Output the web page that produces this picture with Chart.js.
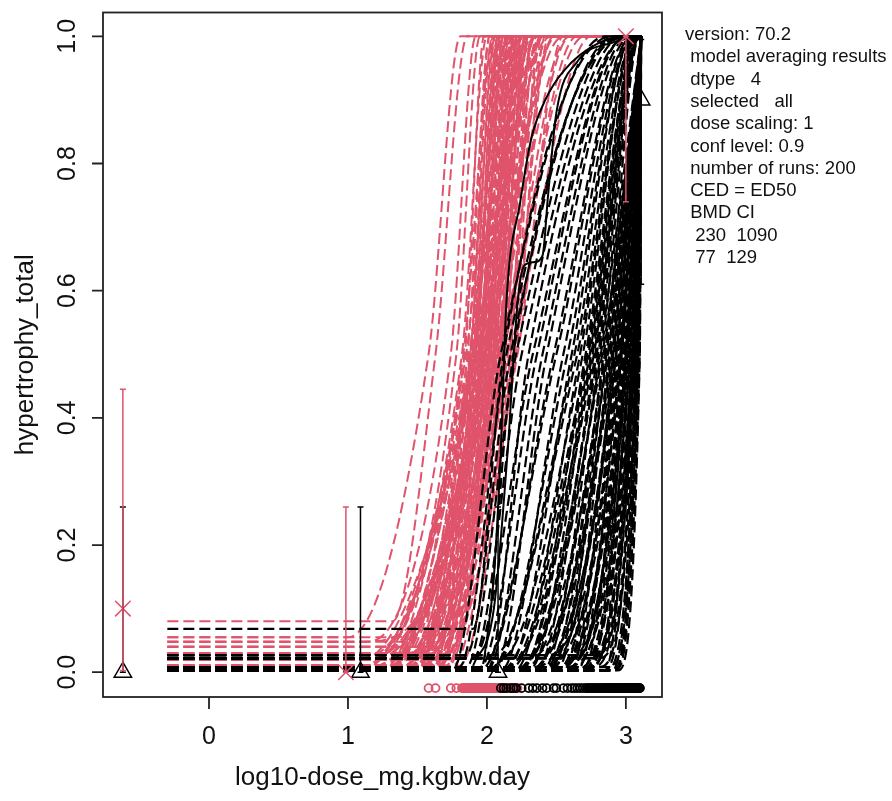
<!DOCTYPE html>
<html>
<head>
<meta charset="utf-8">
<script src="https://cdn.jsdelivr.net/npm/chart.js@4/dist/chart.umd.min.js"></script>
<style>
  body { margin: 0; background: #fff; }
  #wrap { width: 892px; height: 801px; }
</style>
</head>
<body>
<div id="wrap"><canvas id="chart" width="892" height="801"></canvas></div>
<script>
// axis ticks and texts
const xTicks = [0, 1, 2, 3];
const yTicks = [0, 0.2, 0.4, 0.6, 0.8, 1.0];
const yTickLabels = ['0.0', '0.2', '0.4', '0.6', '0.8', '1.0'];
const xTitle = 'log10-dose_mg.kgbw.day';
const yTitle = 'hypertrophy_total';
const infoLines = [
    'version: 70.2',
    ' model averaging results',
    ' dtype   4',
    ' selected   all',
    ' dose scaling: 1',
    ' conf level: 0.9',
    ' number of runs: 200',
    ' CED = ED50',
    ' BMD CI',
    '  230  1090',
    '  77  129'
];

// observed responses per dose group (log10 dose)
const redDoseX = [-0.62, 0.985, 3.0];
const redMean = [0.10, 0.0, 1.0];
const redLow = [0.0025, 0.0, 0.74];
const redHigh = [0.445, 0.26, 1.0];
const blackDoseX = [-0.62, 1.09, 2.08, 3.11];
const blackMean = [0.0, 0.0, 0.0, 0.9];
const blackLow = [0.0, 0.0, 0.0, 0.61];
const blackHigh = [0.26, 0.26, 0.26, 0.995];

// bootstrap curves: background level, end of flat part, ED50, top
const curveLeft = -0.3;
const curveRight = 3.11;
const redBase = [0.055, 0.080, 0.048, 0.040, 0.020, 0.048, 0.004, 0.020, 0.010, 0.004,
                 0.030, 0.004, 0.020, 0.010, 0.004, 0.040, 0.004, 0.020, 0.004, 0.010,
                 0.004, 0.055, 0.004, 0.020, 0.010, 0.004, 0.030, 0.004, 0.020, 0.004,
                 0.010, 0.004, 0.020, 0.004, 0.010, 0.004, 0.020, 0.004, 0.040, 0.004,
                 0.010, 0.004, 0.020, 0.004, 0.010, 0.004, 0.030, 0.004, 0.020, 0.004,
                 0.010, 0.004, 0.020, 0.004, 0.010, 0.004, 0.020, 0.004, 0.048, 0.010,
                 0.004, 0.010, 0.004, 0.020, 0.004, 0.010, 0.004, 0.020, 0.004, 0.010,
                 0.004, 0.030, 0.004, 0.010, 0.004, 0.020, 0.004, 0.010, 0.004, 0.020,
                 0.004, 0.010, 0.004, 0.020, 0.004, 0.010, 0.004, 0.020, 0.004, 0.010];
const redStart = [1.00, 1.32, 1.15, 1.25, 1.05, 1.40, 0.95, 1.20, 1.30, 1.10,
                  1.35, 1.50, 1.15, 1.40, 1.25, 1.55, 1.05, 1.45, 1.30, 1.20,
                  1.50, 1.35, 1.60, 1.10, 1.45, 1.25, 1.55, 1.40, 1.15, 1.60,
                  1.30, 1.50, 1.20, 1.65, 1.35, 1.55, 1.45, 1.25, 1.60, 1.40,
                  1.70, 1.30, 1.55, 1.45, 1.65, 1.35, 1.60, 1.50, 1.70, 1.40,
                  1.75, 1.55, 1.65, 1.45, 1.80, 1.60, 1.70, 1.00, 1.10, 1.20,
                  1.45, 1.30, 1.55, 1.20, 1.60, 1.40, 1.50, 1.35, 1.65, 1.25,
                  1.55, 1.45, 1.60, 1.30, 1.70, 1.50, 1.40, 1.65, 1.55, 1.75,
                  1.45, 1.60, 1.70, 1.50, 1.35, 1.45, 1.55, 1.65, 1.25, 1.40];
const redMid = [1.58, 1.63, 1.74, 1.78, 1.82, 1.83, 1.84, 1.85, 1.86, 1.87,
                1.88, 1.88, 1.89, 1.90, 1.90, 1.91, 1.92, 1.92, 1.93, 1.94,
                1.94, 1.95, 1.96, 1.96, 1.97, 1.98, 1.98, 1.99, 2.00, 2.00,
                2.01, 2.02, 2.02, 2.03, 2.04, 2.04, 2.05, 2.06, 2.06, 2.07,
                2.08, 2.08, 2.09, 2.10, 2.10, 2.11, 2.12, 2.13, 2.14, 2.15,
                2.16, 2.17, 2.18, 2.19, 2.20, 2.21, 2.22, 1.95, 2.01, 1.99,
                1.885, 1.895, 1.905, 1.915, 1.925, 1.935, 1.945, 1.955, 1.965, 1.975,
                1.985, 1.995, 2.005, 2.015, 2.025, 2.035, 2.045, 2.055, 2.065, 2.075,
                2.085, 2.095, 2.105, 2.115, 1.93, 1.97, 2.01, 2.05, 1.91, 1.99];
const redTop = [1.81, 1.86, 1.92, 1.95, 2.00, 2.05, 1.98, 2.10, 2.02, 2.15,
                2.04, 2.25, 2.06, 2.12, 2.35, 2.08, 2.20, 2.10, 2.45, 2.14,
                2.30, 2.12, 2.18, 2.40, 2.16, 2.22, 2.55, 2.20, 2.26, 2.15,
                2.50, 2.20, 2.32, 2.24, 2.60, 2.22, 2.28, 2.40, 2.25, 2.35,
                2.26, 2.70, 2.30, 2.38, 2.28, 2.48, 2.34, 2.30, 2.65, 2.36,
                2.40, 2.32, 2.75, 2.38, 2.45, 2.42, 2.55, 2.08, 2.16, 2.30,
                2.02, 2.20, 2.05, 2.30, 2.08, 2.15, 2.40, 2.10, 2.12, 2.25,
                2.14, 2.50, 2.16, 2.22, 2.18, 2.35, 2.20, 2.28, 2.22, 2.45,
                2.25, 2.30, 2.28, 2.60, 2.06, 2.12, 2.18, 2.24, 2.10, 2.20];

const blackBase = [0.003, 0.068, 0.008, 0.027, 0.003, 0.022, 0.003, 0.008, 0.003, 0.022,
                   0.003, 0.008, 0.027, 0.003, 0.022, 0.003, 0.008, 0.003, 0.022, 0.003,
                   0.008, 0.003, 0.027, 0.003, 0.008, 0.003, 0.022, 0.003, 0.008, 0.003,
                   0.003, 0.022, 0.003, 0.008, 0.003, 0.027, 0.003, 0.008, 0.003, 0.022,
                   0.003, 0.008, 0.003, 0.003, 0.022, 0.003, 0.008, 0.003, 0.003, 0.027,
                   0.003, 0.008, 0.003, 0.022, 0.003, 0.003, 0.008, 0.003, 0.003, 0.003,
                   0.003, 0.008, 0.003, 0.022, 0.003, 0.008, 0.003, 0.003, 0.022, 0.003,
                   0.008, 0.003, 0.003, 0.008, 0.003, 0.022, 0.003, 0.003, 0.008, 0.003,
                   0.003, 0.022, 0.003, 0.008, 0.003, 0.008, 0.003, 0.022, 0.003, 0.008];
const blackStart = [1.75, 1.90, 1.80, 1.85, 1.95, 1.90, 2.00, 1.95, 2.05, 2.00,
                    2.10, 2.15, 2.05, 2.20, 2.10, 2.25, 2.15, 2.30, 2.20, 2.35,
                    2.25, 2.40, 2.30, 2.45, 2.35, 2.50, 2.40, 2.55, 2.45, 2.30,
                    2.60, 2.50, 2.40, 2.55, 2.65, 2.45, 2.60, 2.70, 2.50, 2.65,
                    2.55, 2.75, 2.60, 2.70, 2.80, 2.65, 2.75, 2.85, 2.70, 2.80,
                    2.85, 2.75, 2.90, 2.80, 2.85, 2.90, 2.88, 2.92, 2.90, 2.94,
                    2.10, 2.25, 2.15, 2.30, 2.20, 2.35, 2.25, 2.40, 2.30, 2.45,
                    2.35, 2.50, 2.40, 2.55, 2.45, 2.60, 2.50, 2.65, 2.55, 2.70,
                    2.60, 2.75, 2.65, 2.80, 1.95, 2.05, 2.00, 1.90, 2.00, 1.85];
const blackMid = [2.10, 2.12, 2.14, 2.17, 2.19, 2.25, 2.30, 2.36, 2.43, 2.48,
                  2.55, 2.61, 2.63, 2.67, 2.69, 2.71, 2.73, 2.75, 2.77, 2.78,
                  2.80, 2.81, 2.82, 2.84, 2.85, 2.86, 2.87, 2.88, 2.89, 2.90,
                  2.91, 2.92, 2.93, 2.94, 2.95, 2.96, 2.96, 2.97, 2.98, 2.99,
                  3.00, 3.00, 3.01, 3.02, 3.02, 3.03, 3.04, 3.04, 3.05, 3.05,
                  3.06, 3.06, 3.07, 3.07, 3.08, 3.08, 3.09, 3.09, 3.10, 3.10,
                  2.72, 2.74, 2.76, 2.79, 2.83, 2.85, 2.87, 2.89, 2.91, 2.93,
                  2.94, 2.95, 2.97, 2.98, 2.99, 3.00, 3.01, 3.02, 3.03, 3.04,
                  3.05, 3.06, 3.07, 3.08, 2.50, 2.58, 2.65, 2.33, 2.40, 2.21];
const blackTop = [2.85, 2.90, 2.95, 2.92, 3.00, 2.98, 3.02, 3.00, 3.04, 3.05,
                  3.06, 3.05, 3.07, 3.08, 3.06, 3.09, 3.08, 3.10, 3.09, 3.10,
                  3.10, 3.11, 3.10, 3.11, 3.10, 3.11, 3.11, 3.11, 3.11, 3.11,
                  3.11, 3.11, 3.11, 3.11, 3.11, 3.11, 3.11, 3.11, 3.11, 3.11,
                  3.11, 3.11, 3.11, 3.11, 3.11, 3.11, 3.11, 3.11, 3.11, 3.11,
                  3.11, 3.11, 3.11, 3.11, 3.11, 3.11, 3.11, 3.11, 3.11, 3.11,
                  3.08, 3.09, 3.10, 3.10, 3.11, 3.11, 3.11, 3.11, 3.11, 3.11,
                  3.11, 3.11, 3.11, 3.11, 3.11, 3.11, 3.11, 3.11, 3.11, 3.11,
                  3.11, 3.11, 3.11, 3.11, 3.05, 3.06, 3.08, 3.00, 3.02, 2.95];

// solid averaged curves
const solidAx = [1.98, 2.05, 2.10, 2.14, 2.24, 2.32, 2.42, 2.55, 2.81, 3.08];
const solidAy = [0.02, 0.15, 0.35, 0.58, 0.74, 0.84, 0.90, 0.945, 0.99, 1.0];
const solidBx = [1.90, 2.05, 2.15, 2.22, 2.27, 2.34, 2.40, 2.44, 2.50, 2.65, 2.90, 3.08];
const solidBy = [0.01, 0.10, 0.35, 0.58, 0.64, 0.645, 0.655, 0.75, 0.88, 0.96, 0.99, 1.0];

const cedLevel = -0.025;

const RED = '#DF536B';
const BLACK = '#000000';
const FONT = '"Liberation Sans", Arial, sans-serif';

function curvePoints(base, start, mid, top) {
    const pts = [
        { x: curveLeft, y: base },
        { x: start, y: base },
        { x: mid, y: 0.5 },
        { x: top, y: 1 }
    ];
    if (top < curveRight) pts.push({ x: curveRight, y: 1 });
    return pts;
}

function curveSet(bases, starts, mids, tops, color, width, order) {
    return mids.map((m, i) => ({
        type: 'line',
        data: curvePoints(bases[i], starts[i], m, tops[i]),
        borderColor: color,
        borderWidth: width,
        borderDash: [11, 5],
        pointRadius: 0,
        fill: false,
        cubicInterpolationMode: 'monotone',
        order: order
    }));
}

function zip(xs, ys) {
    return xs.map((x, i) => ({ x: x, y: ys[i] }));
}

const datasets = [
    ...curveSet(redBase, redStart, redMid, redTop, RED, 2, 6),
    ...curveSet(blackBase, blackStart, blackMid, blackTop, BLACK, 2.2, 5),
    {
        type: 'line', data: zip(solidAx, solidAy), borderColor: BLACK, borderWidth: 2,
        pointRadius: 0, cubicInterpolationMode: 'monotone', order: 4
    },
    {
        type: 'line', data: zip(solidBx, solidBy), borderColor: BLACK, borderWidth: 2,
        pointRadius: 0, cubicInterpolationMode: 'monotone', order: 4
    },
    {
        type: 'line', showLine: false, data: redMid.map(x => ({ x: x, y: cedLevel })),
        pointStyle: 'circle', pointRadius: 4, pointBorderWidth: 1.8,
        pointBorderColor: RED, pointBackgroundColor: 'rgba(0,0,0,0)', order: 3
    },
    {
        type: 'line', showLine: false, data: blackMid.map(x => ({ x: x, y: cedLevel })),
        pointStyle: 'circle', pointRadius: 4, pointBorderWidth: 1.8,
        pointBorderColor: BLACK, pointBackgroundColor: 'rgba(0,0,0,0)', order: 2
    },
    {
        type: 'line', showLine: false, data: zip(blackDoseX, blackMean),
        pointStyle: 'triangle', pointRadius: 10, pointBorderWidth: 1.5,
        pointBorderColor: BLACK, pointBackgroundColor: 'rgba(0,0,0,0)', order: 1
    },
    {
        type: 'line', showLine: false, data: zip(redDoseX, redMean),
        pointStyle: 'crossRot', pointRadius: 11, pointBorderWidth: 1.5,
        pointBorderColor: RED, order: 0
    }
];

function drawBars(ctx, sx, sy, xs, lows, highs, color) {
    ctx.strokeStyle = color;
    ctx.lineWidth = 1.5;
    xs.forEach((x, i) => {
        const px = sx.getPixelForValue(x);
        const y0 = sy.getPixelForValue(lows[i]);
        const y1 = sy.getPixelForValue(highs[i]);
        ctx.beginPath();
        ctx.moveTo(px, y0);
        ctx.lineTo(px, y1);
        ctx.moveTo(px - 3, y0);
        ctx.lineTo(px + 3, y0);
        ctx.moveTo(px - 3, y1);
        ctx.lineTo(px + 3, y1);
        ctx.stroke();
    });
}

// R style frame, ticks and texts
const rFrame = {
    id: 'rFrame',
    afterDatasetsDraw(chart) {
        const ctx = chart.ctx;
        const sx = chart.scales.x;
        const sy = chart.scales.y;
        ctx.save();
        drawBars(ctx, sx, sy, blackDoseX, blackLow, blackHigh, BLACK);
        drawBars(ctx, sx, sy, redDoseX, redLow, redHigh, RED);
        ctx.restore();
    },
    afterDraw(chart) {
        const ctx = chart.ctx;
        const a = chart.chartArea;
        const sx = chart.scales.x;
        const sy = chart.scales.y;
        ctx.save();
        ctx.strokeStyle = '#222';
        ctx.lineWidth = 1.8;
        ctx.strokeRect(a.left, a.top, a.right - a.left, a.bottom - a.top);

        ctx.fillStyle = '#111';
        ctx.font = '25px ' + FONT;
        ctx.textAlign = 'center';
        ctx.textBaseline = 'middle';

        ctx.beginPath();
        xTicks.forEach(t => {
            const px = sx.getPixelForValue(t);
            ctx.moveTo(px, a.bottom);
            ctx.lineTo(px, a.bottom + 12);
        });
        yTicks.forEach(t => {
            const py = sy.getPixelForValue(t);
            ctx.moveTo(a.left, py);
            ctx.lineTo(a.left - 11, py);
        });
        ctx.stroke();

        xTicks.forEach(t => {
            ctx.fillText(String(t), sx.getPixelForValue(t), 737);
        });
        yTicks.forEach((t, i) => {
            ctx.save();
            ctx.translate(68, sy.getPixelForValue(t));
            ctx.rotate(-Math.PI / 2);
            ctx.fillText(yTickLabels[i], 0, 0);
            ctx.restore();
        });

        ctx.font = '26px ' + FONT;
        ctx.fillText(xTitle, (a.left + a.right) / 2, 778);
        ctx.save();
        ctx.translate(26, (a.top + a.bottom) / 2);
        ctx.rotate(-Math.PI / 2);
        ctx.fillText(yTitle, 0, 0);
        ctx.restore();

        ctx.font = '18.5px ' + FONT;
        ctx.textAlign = 'left';
        infoLines.forEach((line, i) => {
            ctx.fillText(line, 685, 35 + i * 22.3);
        });
        ctx.restore();
    }
};

new Chart(document.getElementById('chart'), {
    type: 'line',
    data: { datasets: datasets },
    options: {
        responsive: false,
        animation: false,
        devicePixelRatio: 1,
        layout: { padding: { left: 103, right: 230, top: 8, bottom: 104 } },
        plugins: { legend: { display: false }, tooltip: { enabled: false } },
        scales: {
            x: { type: 'linear', min: -0.763, max: 3.26, display: false },
            y: { type: 'linear', min: -0.039, max: 1.0375, display: false }
        }
    },
    plugins: [rFrame]
});
</script>
</body>
</html>
